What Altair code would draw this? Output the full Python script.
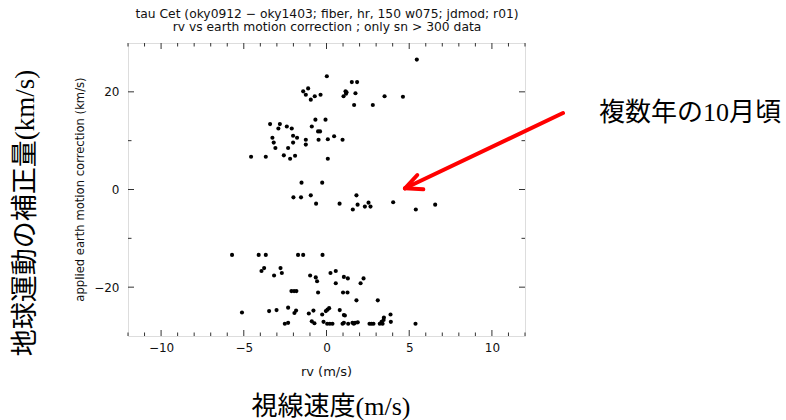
import altair as alt
import pandas as pd

# ---- data ----
rv = [5.46, 0.02, 1.53, 1.85, -1.41, -1.11, -1.25, -0.95, -0.71, -0.36, 1.15, 1.21, 1.18, 1.03, 1.75, 1.67, 2.80, 3.51, 4.62,
      -3.41, -2.82, -2.91, -2.40, -2.10, -3.27, -3.19, -3.09, -2.32, -2.02, -1.78, -2.02, -1.25, -1.25, -0.67, -0.06, -0.89,
      -0.51, -0.39, -0.48, 0.08, 0.46, 0.97, -4.56, -3.67, -2.58, -2.20, -1.90, 0.08,
      -1.51, -0.26, -2.00, -1.54, -0.95, -0.63, 0.79, 1.81, 1.88, 1.59, 2.32, 2.54, 2.66, 4.03, 5.40, 6.57,
      -5.71, -4.10, -3.67, -1.72, -1.41, -0.24,
      -3.93, -3.77, -3.17, -2.78, -2.70,
      -2.12, -1.96, -1.82,
      -0.99, -0.65, -0.57, -0.51,
      0.24, 0.56, 0.56, 1.05, 1.29, 1.00, 1.27, 1.81, 2.06, 2.24, 3.10,
      -5.11, -3.47, -3.02, -2.32, -1.94, -1.84, -2.52, -2.32,
      -1.07, -0.79, -0.89, -0.73, -0.26, -0.18, -0.04, 0.06, 0.16,
      0.04, 0.20, 0.36, 0.80, 1.05, 1.11, 0.97, 1.05, 1.31, 1.57, 1.65, 1.73, 1.89,
      2.60, 2.72, 2.84, 3.22, 3.33, 3.39, 3.47, 3.45, 3.87, 3.89, 5.38]
corr = [26.6, 23.2, 22.0, 22.0, 20.1, 20.7, 19.4, 18.4, 19.1, 19.4, 20.1, 19.9, 19.6, 19.1, 19.7, 17.3, 17.3, 19.1, 19.0,
        13.4, 13.4, 12.5, 12.9, 12.5, 10.6, 9.6, 8.5, 8.5, 11.0, 10.6, 9.6, 10.2, 9.2, 14.3, 14.3, 12.9,
        11.9, 11.9, 10.2, 10.3, 10.9, 10.2, 6.7, 6.7, 7.0, 6.3, 6.9, 6.3,
        1.4, 1.4, -1.6, -1.6, -1.2, -2.9, -2.9, -1.2, -3.1, -4.1, -3.5, -2.7, -3.5, -2.6, -4.1, -3.1,
        -13.4, -13.4, -13.4, -13.4, -13.4, -13.4,
        -16.7, -16.1, -17.6, -16.1, -17.1,
        -20.8, -20.8, -20.8,
        -17.6, -18.0, -18.8, -21.1,
        -17.1, -16.7, -19.2, -17.9, -18.2, -21.1, -21.1, -22.7, -19.2, -18.2, -22.7,
        -25.2, -24.9, -24.7, -24.2, -25.3, -24.8, -27.5, -27.3,
        -25.4, -24.8, -27.0, -27.4, -25.6, -27.1, -24.9, -24.6, -24.3,
        -27.5, -27.5, -27.5, -24.7, -25.7, -25.8, -27.5, -27.3, -27.5, -27.3, -27.5, -27.3, -27.2,
        -27.5, -27.5, -27.5, -27.5, -27.1, -27.5, -26.2, -26.7, -25.6, -27.1, -27.5]

x_major = [-10, -5, 0, 5, 10]
x_minor = [v for v in range(-12, 13) if v % 5 != 0]
y_major = [-20, 0, 20]
y_minor = [-10, 10]

title1 = "tau Cet (oky0912 − oky1403; fiber, hr, 150 w075; jdmod; r01)"
title2 = "rv vs earth motion correction ; only sn > 300 data"
xtitle = "rv (m/s)"
ytitle = "applied earth motion correction (km/s)"
jp_y = "地球運動の補正量(km/s)"
jp_x = "視線速度(m/s)"
jp_note = "複数年の10月頃"

W, H = 397, 293
FONT = "DejaVu Sans"
JFONT = "Liberation Serif, Noto Sans CJK JP"
MAJ, MIN = 6, 3.5

df = pd.DataFrame({"rv": rv, "corr": corr})
xs = alt.Scale(domain=[-12, 12], nice=False, zero=False)
ys = alt.Scale(domain=[-30, 30], nice=False, zero=False)

points = alt.Chart(df).mark_circle(size=17, color="#000", opacity=1).encode(
    x=alt.X("rv:Q", scale=xs,
            axis=alt.Axis(values=x_major, title=None, ticks=False, domain=False, grid=False,
                          labelFont=FONT, labelFontSize=12, labelColor="#111", labelPadding=6)),
    y=alt.Y("corr:Q", scale=ys,
            axis=alt.Axis(values=y_major, title=None, ticks=False, domain=False, grid=False,
                          labelFont=FONT, labelFontSize=12, labelColor="#111", labelPadding=9)),
)

tick_col = "#333"

def xticks(vals, length):
    d = pd.DataFrame({"v": vals})
    bot = alt.Chart(d).mark_rule(color=tick_col, strokeWidth=1).encode(
        x=alt.X("v:Q", scale=xs), y=alt.value(H), y2=alt.value(H - length))
    top = alt.Chart(d).mark_rule(color=tick_col, strokeWidth=1).encode(
        x=alt.X("v:Q", scale=xs), y=alt.value(0), y2=alt.value(length))
    return [bot, top]

def yticks(vals, length):
    d = pd.DataFrame({"v": vals})
    left = alt.Chart(d).mark_rule(color=tick_col, strokeWidth=1).encode(
        y=alt.Y("v:Q", scale=ys), x=alt.value(0), x2=alt.value(length))
    right = alt.Chart(d).mark_rule(color=tick_col, strokeWidth=1).encode(
        y=alt.Y("v:Q", scale=ys), x=alt.value(W), x2=alt.value(W - length))
    return [left, right]

one = pd.DataFrame({"a": [0]})

def label(text, x, y, size, font=FONT, angle=0, baseline="alphabetic", align="center", color="#111"):
    return alt.Chart(one).mark_text(text=text, font=font, fontSize=size, angle=angle,
                                    baseline=baseline, align=align, color=color).encode(
        x=alt.value(x), y=alt.value(y))

texts = [
    label(title1, W / 2 + 0.5, -25.5, 12.3),
    label(title2, W / 2 + 0.5, -12.3, 12.3),
    label(xtitle, W / 2, 332.5, 13),
    label(ytitle, -47, H / 2, 11.6, angle=270, baseline="middle"),
    label(jp_y, -102, 170, 27, font=JFONT, angle=270, baseline="middle", color="#000"),
    label(jp_x, 203, 364, 26, font=JFONT, baseline="middle", color="#000"),
    label(jp_note, 562, 69.5, 26, font=JFONT, baseline="middle", color="#000"),
]

def seg(x1, y1, x2, y2):
    return alt.Chart(one).mark_rule(color="#ff0000", strokeWidth=4, strokeCap="round").encode(
        x=alt.value(x1), y=alt.value(y1), x2=alt.value(x2), y2=alt.value(y2))

arrow = [seg(435, 70, 277, 145.3), seg(277, 145.3, 289.3, 132), seg(277, 145.3, 295.3, 146.3)]

layers = [points] + xticks(x_major, MAJ) + xticks(x_minor, MIN) + yticks(y_major, MAJ) + yticks(y_minor, MIN) + texts + arrow

chart = alt.layer(*layers).properties(
    width=W, height=H,
    autosize=alt.AutoSizeParams(type="none"),
    padding={"left": 128, "top": 43, "right": 786 - 128 - W, "bottom": 420 - 43 - H},
).configure_view(stroke="#333", strokeWidth=1.2).configure(background="white")

chart.save("out.html", embed_options={"renderer": "svg", "actions": False})
